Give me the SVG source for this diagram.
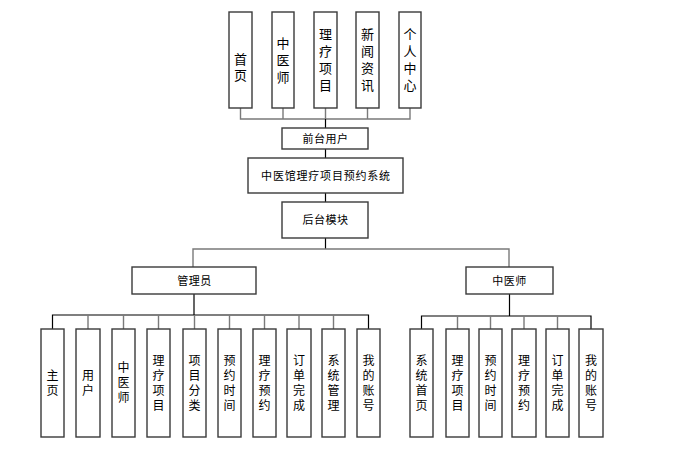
<svg xmlns="http://www.w3.org/2000/svg" width="677" height="458" viewBox="0 0 677 458">
<style>
.b{fill:#fff;stroke:#3a3a3a;stroke-width:1.4}
.t{font-family:"Liberation Sans","Noto Sans CJK SC",sans-serif;fill:#000;text-anchor:middle}
.v{font-size:13px}
.w{font-size:12px}
.h{font-size:11px}
.k{fill:none;stroke:#000;stroke-width:1.2}
.g{fill:none;stroke:#7a7a7a;stroke-width:1.4}
</style>
<rect width="677" height="458" fill="#fff"/>
<g id="connectors">
<path class="g" d="M240.5 108V119H410V108M283 108V119M325.5 108V119M367.5 108V119"/>
<path class="k" d="M325.5 119V128M325.5 149V158M325.5 193V202M325.5 238V249"/>
<path class="g" d="M193 267V249H509V267"/>
<path class="k" d="M194 294V315M52.5 329V315H368.5V329"/>
<path class="g" d="M88 315V329M123.5 315V329M158.5 315V329M194.5 315V329M229.5 315V329M264.5 315V329M299 315V329M333.5 315V329"/>
<path class="k" d="M509.5 294V316M421.5 329V316H591V329"/>
<path class="g" d="M457.5 316V329M490.5 316V329M524 316V329M557.5 316V329"/>
</g>
<g id="n_shouye"><rect class="b" x="229" y="12" width="23" height="96"/><text class="t v" x="240.5" y="64">首</text><text class="t v" x="240.5" y="80">页</text></g>
<g id="n_zhongyishi_top"><rect class="b" x="272" y="12" width="22" height="96"/><text class="t v" x="283" y="48">中</text><text class="t v" x="283" y="65">医</text><text class="t v" x="283" y="82">师</text></g>
<g id="n_liliao_top"><rect class="b" x="314" y="12" width="23" height="96"/><text class="t v" x="325.5" y="39">理</text><text class="t v" x="325.5" y="56">疗</text><text class="t v" x="325.5" y="73">项</text><text class="t v" x="325.5" y="90">目</text></g>
<g id="n_xinwen"><rect class="b" x="356" y="12" width="23" height="96"/><text class="t v" x="367.5" y="39">新</text><text class="t v" x="367.5" y="56">闻</text><text class="t v" x="367.5" y="73">资</text><text class="t v" x="367.5" y="90">讯</text></g>
<g id="n_geren"><rect class="b" x="399" y="12" width="22" height="96"/><text class="t v" x="410" y="39">个</text><text class="t v" x="410" y="56">人</text><text class="t v" x="410" y="73">中</text><text class="t v" x="410" y="90">心</text></g>
<g id="n_qiantai"><rect class="b" x="282" y="128" width="86" height="21"/><text class="t h" x="325.5" y="142.5" letter-spacing="0.5">前台用户</text></g>
<g id="n_system"><rect class="b" x="248" y="158" width="155" height="35"/><text class="t h" x="326" y="179.5" letter-spacing="0.8">中医馆理疗项目预约系统</text></g>
<g id="n_houtai"><rect class="b" x="282" y="202" width="86" height="36"/><text class="t h" x="325.5" y="224" letter-spacing="0.5">后台模块</text></g>
<g id="n_admin"><rect class="b" x="132" y="267" width="124" height="27"/><text class="t h" x="194.5" y="284.5" letter-spacing="0.5">管理员</text></g>
<g id="n_doctor"><rect class="b" x="466" y="267" width="87" height="27"/><text class="t h" x="509.5" y="284.5" letter-spacing="0.5">中医师</text></g>
<g id="a1"><rect class="b" x="41" y="329" width="23" height="108"/><text class="t w" x="52.5" y="380">主</text><text class="t w" x="52.5" y="395">页</text></g>
<g id="a2"><rect class="b" x="76" y="329" width="24" height="108"/><text class="t w" x="88" y="380">用</text><text class="t w" x="88" y="395">户</text></g>
<g id="a3"><rect class="b" x="112" y="329" width="23" height="108"/><text class="t w" x="123.5" y="372">中</text><text class="t w" x="123.5" y="387">医</text><text class="t w" x="123.5" y="402">师</text></g>
<g id="a4"><rect class="b" x="147" y="329" width="23" height="108"/><text class="t w" x="158.5" y="365">理</text><text class="t w" x="158.5" y="380">疗</text><text class="t w" x="158.5" y="395">项</text><text class="t w" x="158.5" y="410">目</text></g>
<g id="a5"><rect class="b" x="183" y="329" width="23" height="108"/><text class="t w" x="194.5" y="365">项</text><text class="t w" x="194.5" y="380">目</text><text class="t w" x="194.5" y="395">分</text><text class="t w" x="194.5" y="410">类</text></g>
<g id="a6"><rect class="b" x="218" y="329" width="23" height="108"/><text class="t w" x="229.5" y="365">预</text><text class="t w" x="229.5" y="380">约</text><text class="t w" x="229.5" y="395">时</text><text class="t w" x="229.5" y="410">间</text></g>
<g id="a7"><rect class="b" x="253" y="329" width="23" height="108"/><text class="t w" x="264.5" y="365">理</text><text class="t w" x="264.5" y="380">疗</text><text class="t w" x="264.5" y="395">预</text><text class="t w" x="264.5" y="410">约</text></g>
<g id="a8"><rect class="b" x="287" y="329" width="24" height="108"/><text class="t w" x="299" y="365">订</text><text class="t w" x="299" y="380">单</text><text class="t w" x="299" y="395">完</text><text class="t w" x="299" y="410">成</text></g>
<g id="a9"><rect class="b" x="322" y="329" width="23" height="108"/><text class="t w" x="333.5" y="365">系</text><text class="t w" x="333.5" y="380">统</text><text class="t w" x="333.5" y="395">管</text><text class="t w" x="333.5" y="410">理</text></g>
<g id="a10"><rect class="b" x="357" y="329" width="23" height="108"/><text class="t w" x="368.5" y="365">我</text><text class="t w" x="368.5" y="380">的</text><text class="t w" x="368.5" y="395">账</text><text class="t w" x="368.5" y="410">号</text></g>
<g id="d1"><rect class="b" x="410" y="329" width="23" height="108"/><text class="t w" x="421.5" y="365">系</text><text class="t w" x="421.5" y="380">统</text><text class="t w" x="421.5" y="395">首</text><text class="t w" x="421.5" y="410">页</text></g>
<g id="d2"><rect class="b" x="446" y="329" width="23" height="108"/><text class="t w" x="457.5" y="365">理</text><text class="t w" x="457.5" y="380">疗</text><text class="t w" x="457.5" y="395">项</text><text class="t w" x="457.5" y="410">目</text></g>
<g id="d3"><rect class="b" x="479" y="329" width="23" height="108"/><text class="t w" x="490.5" y="365">预</text><text class="t w" x="490.5" y="380">约</text><text class="t w" x="490.5" y="395">时</text><text class="t w" x="490.5" y="410">间</text></g>
<g id="d4"><rect class="b" x="512" y="329" width="24" height="108"/><text class="t w" x="524" y="365">理</text><text class="t w" x="524" y="380">疗</text><text class="t w" x="524" y="395">预</text><text class="t w" x="524" y="410">约</text></g>
<g id="d5"><rect class="b" x="546" y="329" width="23" height="108"/><text class="t w" x="557.5" y="365">订</text><text class="t w" x="557.5" y="380">单</text><text class="t w" x="557.5" y="395">完</text><text class="t w" x="557.5" y="410">成</text></g>
<g id="d6"><rect class="b" x="579" y="329" width="24" height="108"/><text class="t w" x="591" y="365">我</text><text class="t w" x="591" y="380">的</text><text class="t w" x="591" y="395">账</text><text class="t w" x="591" y="410">号</text></g>
</svg>
